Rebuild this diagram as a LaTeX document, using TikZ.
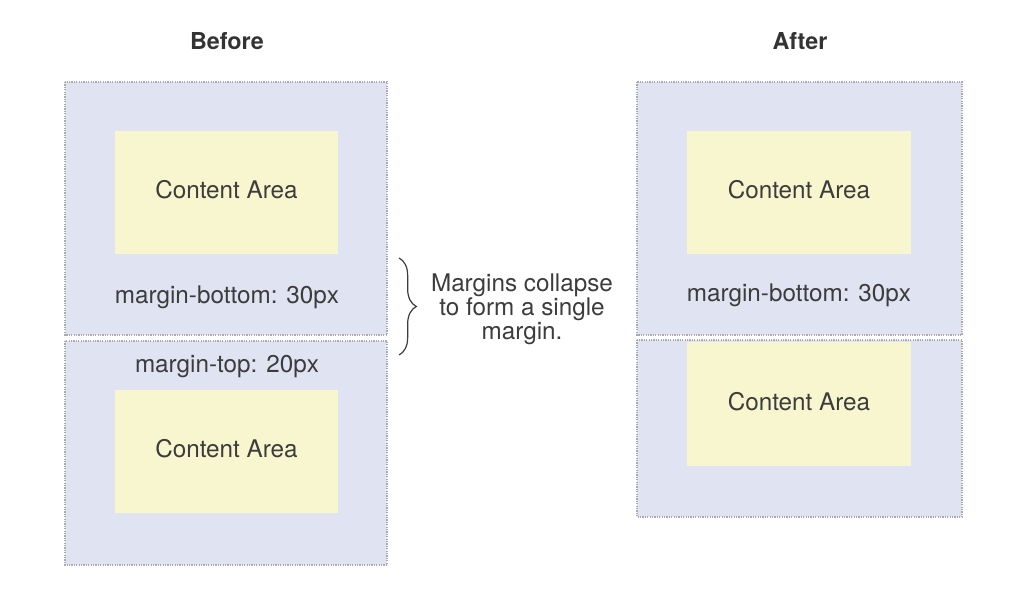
\documentclass[tikz,border=0pt]{standalone}
\usepackage{fontspec}
\setmainfont{TeX Gyre Heros}
\usetikzlibrary{decorations.pathreplacing}
\definecolor{marginfill}{HTML}{E0E3F1}
\definecolor{contentfill}{HTML}{F8F6CE}
\definecolor{dotline}{HTML}{A9A9AE}
\definecolor{labeltext}{HTML}{3C3C3C}
\tikzset{
  marginbox/.style={fill=marginfill,draw=dotline,line width=0.9pt,dash pattern=on 0.9pt off 0.9pt},
  contentbox/.style={fill=contentfill,draw=none},
  label text/.style={inner sep=0.75pt,text=labeltext,font=\fontsize{18.2}{16.2}\selectfont},
  title text/.style={inner sep=0.75pt,text=black!80,font=\fontsize{17.5}{21}\selectfont\bfseries}
}
\begin{document}
\begin{tikzpicture}[x=0.75pt,y=0.75pt,yscale=-1,xscale=1]
\useasboundingbox (0,0) rectangle (1022,600);

%Shape: Rectangle [before, upper box]
\draw[marginbox] (65,82) rectangle (387,335) ;
%Shape: Rectangle [before, lower box]
\draw[marginbox] (65,341) rectangle (387,565) ;
%Shape: Rectangle [before, upper content]
\fill[contentfill] (115,131) rectangle (338,254) ;
%Shape: Rectangle [before, lower content]
\fill[contentfill] (115,390) rectangle (338,513) ;

%Shape: Rectangle [after, upper box]
\draw[marginbox] (637,82) rectangle (962,335) ;
%Shape: Rectangle [after, lower box]
\draw[marginbox] (637,340) rectangle (962,517) ;
%Shape: Rectangle [after, upper content]
\fill[contentfill] (687,131) rectangle (911,254) ;
%Shape: Rectangle [after, lower content]
\fill[contentfill] (687,342) rectangle (911,466) ;

% Text Node
\node[title text] (before) at (227,41) {Before};
% Text Node
\node[title text] (after) at (800,41) {After};
% Text Node
\node[label text] (beforeContentA) at (226.5,190) {Content Area};
% Text Node
\node[label text] (beforeContentB) at (226.5,449) {Content Area};
% Text Node
\node[label text] (beforeBottom) at (227,297) {margin-bottom: 30px};
% Text Node
\node[label text] (beforeTop) at (227,367) {margin-top: 20px};
% Text Node
\node[label text] (afterContentA) at (799,190) {Content Area};
% Text Node
\node[label text] (afterContentB) at (799,402) {Content Area};
% Text Node
\node[label text] (afterBottom) at (799,295) {margin-bottom: 30px};
% Text Node
\node[label text,align=center] (collapse) at (522,309) {Margins collapse\\to form a single\\margin.};

%Brace
\coordinate (braceTop) at (399,258) ;
\coordinate (braceBot) at (399,355) ;
\draw[labeltext,line width=0.9pt,decorate,decoration={brace,amplitude=13pt}] (braceTop) -- (braceBot) ;
\end{tikzpicture}
\end{document}
